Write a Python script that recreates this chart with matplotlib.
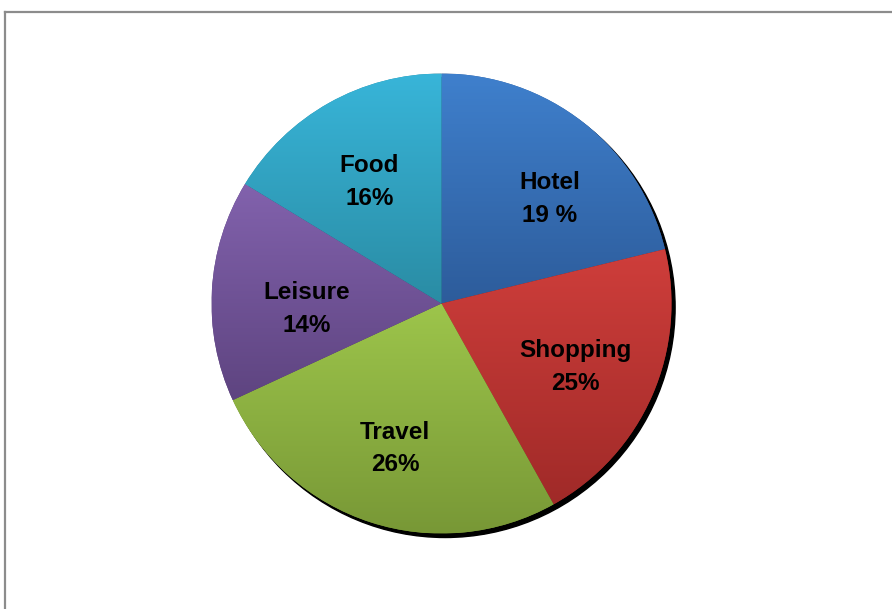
import numpy as np
import matplotlib
matplotlib.use("Agg")
import matplotlib.pyplot as plt
from matplotlib.patches import Circle
from matplotlib.lines import Line2D
from matplotlib.colors import LinearSegmentedColormap

plt.rcParams['font.family'] = ['Liberation Sans', 'DejaVu Sans']

# categories, clockwise from 12 o'clock
categories = ["Hotel", "Shopping", "Travel", "Leisure", "Food"]
# slice sizes as drawn in the picture (%)
shares = [21.2, 20.7, 26.2, 15.6, 16.3]
# percentage text as printed on the chart
pct_labels = ["19 %", "25%", "26%", "14%", "16%"]

top_colors = ["#3f80cd", "#cf3e3b", "#9dc54b", "#8262ad", "#38b5d9"]
bottom_colors = ["#2d5c9b", "#a02a28", "#789836", "#5e4480", "#2a8ca4"]

W, H = 892, 609
fig = plt.figure(figsize=(W / 100, H / 100), dpi=100)

# grey chart-area border (runs off the right and bottom edge)
fig.add_artist(Line2D([5 / W, 1.0], [1 - 12 / H, 1 - 12 / H], color="#8c8c8c", lw=1.6))
fig.add_artist(Line2D([5 / W, 5 / W], [1 - 12 / H, 0.0], color="#8c8c8c", lw=1.6))

cx, cy, R = 441.5, H - 303.5, 230
ax = fig.add_axes([(cx - R) / W, (cy - R) / H, 2 * R / W, 2 * R / H])

labels = [f"{c}\n{p}" for c, p in zip(categories, pct_labels)]
wedges, texts = ax.pie(shares, labels=labels, startangle=90, counterclock=False,
                       radius=1, labeldistance=0.64,
                       wedgeprops=dict(linewidth=0, edgecolor="none"),
                       textprops=dict(fontsize=17.5, fontweight="bold", color="black",
                                      linespacing=1.55))

# shadow behind the pie
off = 4 / R
ax.add_patch(Circle((off * 0.9, -off), 1.0, color="black", zorder=0, clip_on=False))

# vertical gradient fill per slice
grad = np.linspace(0, 1, 256).reshape(-1, 1)
for w, c0, c1 in zip(wedges, top_colors, bottom_colors):
    ext = w.get_path().get_extents()
    cmap = LinearSegmentedColormap.from_list("g", [c0, c1])
    im = ax.imshow(grad, cmap=cmap, aspect="auto", origin="upper",
                   extent=[ext.x0, ext.x1, ext.y0, ext.y1], zorder=1)
    im.set_clip_path(w)
    w.set_facecolor(c1)

# small nudges (pixels: right, down) so labels sit where the original has them
nudges = [(17, 11), (-1, 5), (-1, 5), (12, 14), (0, 7)]
for t, (dx, dy) in zip(texts, nudges):
    t.set_ha("center")
    t.set_va("center")
    t.set_zorder(5)
    x, y = t.get_position()
    t.set_position((x + dx / R, y - dy / R))

ax.set_xlim(-1, 1)
ax.set_ylim(-1, 1)
ax.set_aspect("equal")
ax.axis("off")

fig.savefig("out.png", dpi=100)
